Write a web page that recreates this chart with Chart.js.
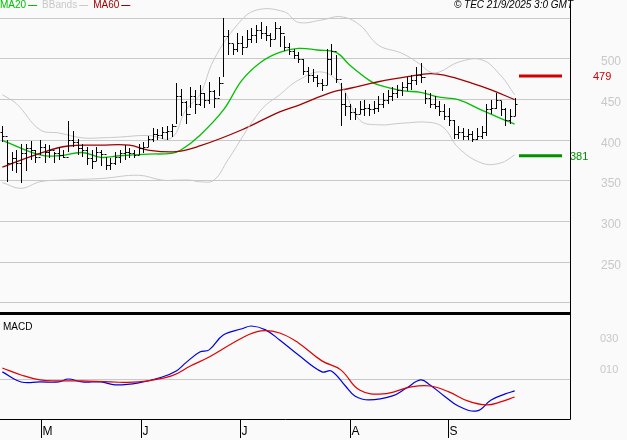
<!DOCTYPE html>
<html><head><meta charset="utf-8">
<script src="https://cdn.jsdelivr.net/npm/chart.js@4/dist/chart.umd.min.js"></script>
<style>
html,body{margin:0;padding:0;background:#fafafa;overflow:hidden}
#c1{position:absolute;left:0;top:0}
#c2{position:absolute;left:0;top:315px}
</style></head><body>
<canvas id="c1" width="627" height="315"></canvas>
<canvas id="c2" width="627" height="125"></canvas>
<script>
const highs=[418,400,385,388,396,396,399,388,400,395,394,386,392,388,424,412,402,396,392,388,392,388,380,378,386,388,394,390,388,395,398,405,415,414,416,418,420,470,463,448,465,462,468,458,472,462,478,550,535,518,532,528,536,538,542,546,540,532,545,540,528,520,512,508,500,490,488,480,475,512,518,505,470,458,445,440,448,450,445,448,455,458,462,465,468,472,478,480,490,495,462,458,455,448,445,440,425,418,415,414,412,415,418,445,450,458,448,440,438,452];
const lows=[398,349,362,360,347,362,376,372,382,372,378,372,376,378,385,392,382,380,370,365,374,368,364,364,370,372,376,378,378,382,384,392,398,400,402,400,404,420,430,420,440,432,442,440,445,440,455,478,505,505,508,505,515,520,520,525,522,515,525,515,510,505,500,495,480,470,472,465,460,468,480,470,418,430,425,425,432,430,430,432,435,440,445,448,452,455,460,462,468,470,445,440,438,430,425,418,402,402,400,400,398,400,402,405,432,438,430,418,420,430];
const closes=[405,372,378,372,384,390,388,380,392,385,388,384,382,380,400,398,390,388,378,375,385,383,370,372,380,384,386,384,382,390,392,402,408,406,410,412,418,455,447,432,455,445,458,450,460,452,470,528,520,512,520,515,525,530,535,532,530,525,538,532,515,510,505,500,485,480,478,470,468,500,510,475,445,442,435,432,438,440,438,440,445,450,455,458,462,466,470,474,480,478,452,445,442,436,430,425,408,410,405,408,402,405,410,438,440,450,438,425,430,445];
const ma20Idx=[0,8,12,17,21,25,31,36,38,42,47,51,55,59,63,67,71,74,78,80,85,89,93,97,102,106,109];
const ma20Val=[400,382,381,385,379,381,383,384,388,406,437,474,496,508,513,511,508,492,474,468,461,459,453,450,437,427,420];
const ma60Idx=[0,8,14,21,27,31,37,42,51,59,63,70,74,80,87,91,94,100,104,109];
const ma60Val=[367,384,393,394,394,388,386,393,413,435,443,459,464,472,479,482,480,470,462,450];
const bbUpIdx=[0,3,8,12,17,21,25,31,36,39,42,45,50,54,60,63,68,72,76,80,85,89,91,93,97,102,106,109];
const bbUpVal=[456,445,413,409,403,403,404,406,403,437,456,499,542,560,558,545,548,552,542,517,507,493,484,484,496,499,480,456];
const bbLoIdx=[0,4,8,12,21,29,34,37,40,42,45,48,55,59,63,68,72,76,80,85,91,94,97,102,106,109];
const bbLoVal=[348,341,349,351,353,357,351,351,351,349,351,376,437,456,474,484,468,425,419,421,422,415,391,372,372,382];
const macdIdx=[0,4,8,12,14,17,21,24,29,34,37,39,42,44,47,51,53,56,59,63,68,70,73,75,78,83,86,89,91,94,97,101,104,107,109];
const macdVal=[5.2,-1.3,-1.3,-1.3,0.6,-1.3,-1.3,-3.2,-1.9,1.9,5.8,11,18,19.4,29,33,34.8,32.3,25.8,16.1,5.2,5.8,-3.9,-10.3,-12.9,-10.3,-5.2,0,-3.2,-10.3,-16.8,-20,-12.9,-9,-7.1];
const sigIdx=[0,4,8,12,17,23,29,36,40,44,51,55,59,63,68,72,76,81,87,91,95,99,103,106,109];
const sigVal=[7.7,3.2,0,-0.6,-0.6,-1.3,-1.3,2.6,9,14.8,27.1,31.6,30.3,23.9,12.3,6.5,-6.5,-9,-4.5,-3.9,-7.7,-13.5,-16.1,-14.2,-11];
const monthIdx=[8.2,29.5,50.6,74,94.8];
const monthLabels=['M','J','J','A','S'];
const gridVals=[200,250,300,350,400,450,500,550];
const priceTicks=[250,300,350,400,450,500];
const macdTicks=['030','010'];
const macdTickVals=[30,10];
const levelHigh=479, levelLow=381;
const legendItems=[['MA20','#00c000'],['BBands','#c8c8c8'],['MA60','#a00000']];

const XMIN=-0.5, XMAX=120.78;
const opens=closes.map((c,i)=>i===0?410:closes[i-1]);
const pts=(ix,v)=>ix.map((x,i)=>({x:x,y:v[i]}));

const ohlc={id:'ohlc',afterDatasetsDraw(ch){
  const c=ch.ctx,xs=ch.scales.x,ys=ch.scales.y;c.save();c.strokeStyle='#000';c.lineWidth=1;
  for(let i=0;i<closes.length;i++){const x=Math.round(xs.getPixelForValue(i))+0.5;
    c.beginPath();c.moveTo(x,Math.round(ys.getPixelForValue(highs[i])));c.lineTo(x,Math.round(ys.getPixelForValue(lows[i])));c.stroke();
    let y=Math.round(ys.getPixelForValue(opens[i]))+0.5;c.beginPath();c.moveTo(x-2,y);c.lineTo(x,y);c.stroke();
    y=Math.round(ys.getPixelForValue(closes[i]))+0.5;c.beginPath();c.moveTo(x,y);c.lineTo(x+2,y);c.stroke();}
  c.restore();},
 afterDraw(ch){
  const c=ch.ctx,ys=ch.scales.y;c.save();
  c.font='12px "Liberation Sans"';c.fillStyle='#c8c8c8';c.textBaseline='middle';
  priceTicks.forEach(v=>c.fillText(String(v),601,ys.getPixelForValue(v)+3));
  const yH=ys.getPixelForValue(levelHigh),yL=ys.getPixelForValue(levelLow);
  c.lineWidth=3;c.strokeStyle='#d00000';c.beginPath();c.moveTo(519,yH);c.lineTo(562,yH);c.stroke();
  c.strokeStyle='#009000';c.beginPath();c.moveTo(519,yL);c.lineTo(562,yL);c.stroke();
  c.font='11px "Liberation Sans"';
  c.fillStyle='#d00000';c.fillText(String(levelHigh),593,yH+1);
  c.fillStyle='#009000';c.fillText(String(levelLow),570,yL+1);
  c.strokeStyle='#000';c.lineWidth=1;c.beginPath();c.moveTo(570.5,0);c.lineTo(570.5,315);c.stroke();
  c.lineWidth=3;c.beginPath();c.moveTo(0,313.5);c.lineTo(570,313.5);c.stroke();
  c.font='10px "Liberation Sans"';let x=0;
  legendItems.forEach(([t,col])=>{c.fillStyle=col;c.fillText(t,x,5);x+=c.measureText(t).width+2;
    c.strokeStyle=col;c.lineWidth=1;c.beginPath();c.moveTo(x,5.5);c.lineTo(x+9,5.5);c.stroke();x+=14;});
  c.fillStyle='#000';c.font='italic 10px "Liberation Sans"';c.textAlign='right';
  c.fillText('© TEC 21/9/2025 3:0 GMT',573,5);
  c.restore();}};

new Chart(document.getElementById('c1'),{
  type:'line',
  data:{datasets:[
    {data:pts(bbUpIdx,bbUpVal),borderColor:'#c8c8c8',borderWidth:1,pointRadius:0,tension:0.4},
    {data:pts(bbLoIdx,bbLoVal),borderColor:'#c8c8c8',borderWidth:1,pointRadius:0,tension:0.4},
    {data:pts(ma60Idx,ma60Val),borderColor:'#a00000',borderWidth:1.3,pointRadius:0,tension:0.4},
    {data:pts(ma20Idx,ma20Val),borderColor:'#00c000',borderWidth:1.3,pointRadius:0,tension:0.4}
  ]},
  options:{responsive:false,devicePixelRatio:1,animation:false,events:[],
    layout:{padding:0,autoPadding:false},
    plugins:{legend:{display:false},tooltip:{enabled:false}},
    scales:{
      x:{type:'linear',min:XMIN,max:XMAX,display:false,offset:false},
      y:{position:'right',min:185.2,max:572.5,
        afterFit(s){s.width=57;s.paddingTop=0;s.paddingBottom=0;},
        afterBuildTicks(s){s.ticks=gridVals.map(v=>({value:v}));},
        border:{display:false},
        grid:{color:'#c8c8c8',drawTicks:false,lineWidth:1},
        ticks:{display:false}}
    }},
  plugins:[ohlc]});

const frame2={id:'frame2',afterDraw(ch){
  const c=ch.ctx,xs=ch.scales.x,a=ch.chartArea;c.save();c.strokeStyle='#000';c.lineWidth=1;
  c.beginPath();c.moveTo(570.5,0);c.lineTo(570.5,a.bottom+0.5);c.lineTo(0,a.bottom+0.5);c.stroke();
  c.font='12px "Liberation Sans"';c.fillStyle='#000';c.textBaseline='middle';
  monthIdx.forEach((m,i)=>{const x=Math.round(xs.getPixelForValue(m))+0.5;
    c.beginPath();c.moveTo(x,a.bottom);c.lineTo(x,a.bottom+19);c.stroke();
    c.fillText(monthLabels[i],x+1,a.bottom+13);});
  c.font='11px "Liberation Sans"';c.fillStyle='#c8c8c8';
  macdTickVals.forEach((v,i)=>{c.fillText(macdTicks[i],600,ch.scales.y.getPixelForValue(v)+6);});
  c.fillStyle='#000';c.font='10px "Liberation Sans"';c.fillText('MACD',3,12);
  c.restore();}};

new Chart(document.getElementById('c2'),{
  type:'line',
  data:{datasets:[
    {data:pts(sigIdx,sigVal),borderColor:'#e00000',borderWidth:1.2,pointRadius:0,tension:0.4},
    {data:pts(macdIdx,macdVal),borderColor:'#0000e0',borderWidth:1.2,pointRadius:0,tension:0.4}
  ]},
  options:{responsive:false,devicePixelRatio:1,animation:false,events:[],
    layout:{padding:{bottom:21},autoPadding:false},
    plugins:{legend:{display:false},tooltip:{enabled:false}},
    scales:{
      x:{type:'linear',min:XMIN,max:XMAX,display:false},
      y:{position:'right',min:-25.2,max:41.9,
        afterFit(s){s.width=57;},
        afterBuildTicks(s){s.ticks=[{value:0}];},
        border:{display:false},
        grid:{color:'#c8c8c8',drawTicks:false},
        ticks:{display:false}}
    }},
  plugins:[frame2]});
</script></body></html>
